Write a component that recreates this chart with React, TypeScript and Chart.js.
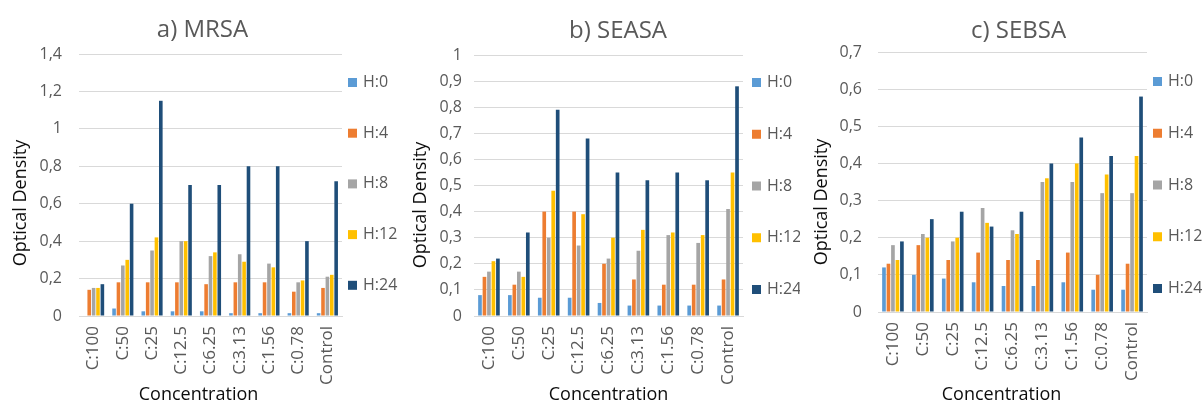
import React, { useEffect, useRef } from "react";
import { Chart, registerables } from "chart.js";

Chart.register(...registerables);

const FONT = "'Open Sans', 'Noto Sans', sans-serif";
const GREY_TEXT = "#595959";

const categories = ["C:100", "C:50", "C:25", "C:12.5", "C:6.25", "C:3.13", "C:1.56", "C:0.78", "Control"];
const hourLabels = ["H:0", "H:4", "H:8", "H:12", "H:24"];
const hourColors = ["#5B9BD5", "#ED7D31", "#A5A5A5", "#FFC000", "#1F4E79"];

// a) MRSA
const mrsaH0 = [0, 0.04, 0.025, 0.025, 0.025, 0.015, 0.015, 0.015, 0.015];
const mrsaH4 = [0.14, 0.18, 0.18, 0.18, 0.17, 0.18, 0.18, 0.13, 0.15];
const mrsaH8 = [0.15, 0.27, 0.35, 0.4, 0.32, 0.33, 0.28, 0.18, 0.21];
const mrsaH12 = [0.15, 0.3, 0.42, 0.4, 0.34, 0.29, 0.26, 0.19, 0.22];
const mrsaH24 = [0.17, 0.6, 1.15, 0.7, 0.7, 0.8, 0.8, 0.4, 0.72];

// b) SEASA
const seasaH0 = [0.08, 0.08, 0.07, 0.07, 0.05, 0.04, 0.04, 0.04, 0.04];
const seasaH4 = [0.15, 0.12, 0.4, 0.4, 0.2, 0.14, 0.12, 0.12, 0.14];
const seasaH8 = [0.17, 0.17, 0.3, 0.27, 0.22, 0.25, 0.31, 0.28, 0.41];
const seasaH12 = [0.21, 0.15, 0.48, 0.39, 0.3, 0.33, 0.32, 0.31, 0.55];
const seasaH24 = [0.22, 0.32, 0.79, 0.68, 0.55, 0.52, 0.55, 0.52, 0.88];

// c) SEBSA
const sebsaH0 = [0.12, 0.1, 0.09, 0.08, 0.07, 0.07, 0.08, 0.06, 0.06];
const sebsaH4 = [0.13, 0.18, 0.14, 0.16, 0.14, 0.14, 0.16, 0.1, 0.13];
const sebsaH8 = [0.18, 0.21, 0.19, 0.28, 0.22, 0.35, 0.35, 0.32, 0.32];
const sebsaH12 = [0.14, 0.2, 0.2, 0.24, 0.21, 0.36, 0.4, 0.37, 0.42];
const sebsaH24 = [0.19, 0.25, 0.27, 0.23, 0.27, 0.4, 0.47, 0.42, 0.58];

const yTitle = "Optical Density";
const xTitle = "Concentration";

type Panel = {
  title: string;
  series: number[][];
  yMax: number;
  yStep: number;
  left: number; // canvas offset on the page
  width: number;
  height: number;
  plot: { left: number; right: number; top: number; bottom: number };
  titlePos: [number, number];
  xTitlePos: [number, number];
  yTitlePos: [number, number];
  legend: { x: number; firstBaseline: number; gap: number };
};

const panels: Panel[] = [
  {
    title: "a) MRSA",
    series: [mrsaH0, mrsaH4, mrsaH8, mrsaH12, mrsaH24],
    yMax: 1.4,
    yStep: 0.2,
    left: 0,
    width: 400,
    height: 401,
    plot: { left: 79, right: 342, top: 54, bottom: 316 },
    titlePos: [202.5, 37],
    xTitlePos: [198.5, 400],
    yTitlePos: [26, 203],
    legend: { x: 348, firstBaseline: 87, gap: 50.7 },
  },
  {
    title: "b) SEASA",
    series: [seasaH0, seasaH4, seasaH8, seasaH12, seasaH24],
    yMax: 1,
    yStep: 0.1,
    left: 400,
    width: 400,
    height: 401,
    plot: { left: 74, right: 343, top: 55, bottom: 316 },
    titlePos: [218, 38],
    xTitlePos: [208.5, 400],
    yTitlePos: [26, 205],
    legend: { x: 352, firstBaseline: 87, gap: 51.75 },
  },
  {
    title: "c) SEBSA",
    series: [sebsaH0, sebsaH4, sebsaH8, sebsaH12, sebsaH24],
    yMax: 0.7,
    yStep: 0.1,
    left: 800,
    width: 402,
    height: 401,
    plot: { left: 78, right: 347, top: 52, bottom: 312 },
    titlePos: [218.5, 38],
    xTitlePos: [201.5, 400],
    yTitlePos: [27, 202],
    legend: { x: 353, firstBaseline: 86, gap: 51.75 },
  },
];

// Draws the chart title, both axis titles and the right-hand legend.
const panelText = {
  id: "panelText",
  afterDraw(chart: any, _args: any, opts: any) {
    const ctx: CanvasRenderingContext2D = chart.ctx;
    ctx.save();

    ctx.fillStyle = GREY_TEXT;
    ctx.font = `24px ${FONT}`;
    ctx.textAlign = "center";
    ctx.textBaseline = "alphabetic";
    ctx.fillText(opts.title, opts.titlePos[0], opts.titlePos[1]);

    ctx.fillStyle = "#0d0d0d";
    ctx.font = `18px ${FONT}`;
    ctx.fillText(xTitle, opts.xTitlePos[0], opts.xTitlePos[1]);

    ctx.save();
    ctx.translate(opts.yTitlePos[0], opts.yTitlePos[1]);
    ctx.rotate(-Math.PI / 2);
    ctx.fillText(yTitle, 0, 0);
    ctx.restore();

    ctx.font = `16px ${FONT}`;
    ctx.textAlign = "left";
    chart.data.datasets.forEach((ds: any, i: number) => {
      const base = opts.legend.firstBaseline + i * opts.legend.gap;
      ctx.fillStyle = ds.backgroundColor;
      ctx.fillRect(opts.legend.x, base - 9, 9, 9);
      ctx.fillStyle = GREY_TEXT;
      ctx.fillText(ds.label, opts.legend.x + 15, base);
    });

    ctx.restore();
  },
};

function formatTick(v: number | string) {
  const n = Math.round(Number(v) * 100) / 100;
  return String(n).replace(".", ",");
}

function PanelChart({ panel }: { panel: Panel }) {
  const ref = useRef<HTMLCanvasElement>(null);

  useEffect(() => {
    if (!ref.current) return;
    const { plot } = panel;
    const chart = new Chart(ref.current, {
      type: "bar",
      data: {
        labels: categories,
        datasets: panel.series.map((values, i) => ({
          label: hourLabels[i],
          data: values,
          backgroundColor: hourColors[i],
          borderWidth: 0,
          categoryPercentage: 0.75,
          barPercentage: 0.82,
        })),
      },
      options: {
        animation: false,
        responsive: false,
        devicePixelRatio: 1,
        layout: {
          padding: { top: plot.top, right: panel.width - plot.right, bottom: 0, left: 0 },
        },
        plugins: {
          legend: { display: false },
          title: { display: false },
          tooltip: { enabled: false },
          panelText: {
            title: panel.title,
            titlePos: panel.titlePos,
            xTitlePos: panel.xTitlePos,
            yTitlePos: panel.yTitlePos,
            legend: panel.legend,
          },
        } as any,
        scales: {
          x: {
            grid: { display: false, drawTicks: false },
            border: { display: true, color: "#D9D9D9", width: 1 },
            ticks: {
              autoSkip: false,
              minRotation: 90,
              maxRotation: 90,
              padding: 10,
              color: GREY_TEXT,
              font: { family: FONT, size: 17 },
            },
            afterFit: (scale: any) => {
              scale.height = panel.height - plot.bottom;
            },
          },
          y: {
            min: 0,
            max: panel.yMax,
            grid: { color: "#D9D9D9", lineWidth: 1, drawTicks: false },
            border: { display: false },
            ticks: {
              stepSize: panel.yStep,
              padding: plot.left - 62,
              color: GREY_TEXT,
              font: { family: FONT, size: 16 },
              callback: (v: any) => formatTick(v),
            },
            afterFit: (scale: any) => {
              scale.width = plot.left;
            },
          },
        },
      },
      plugins: [panelText],
    });
    return () => chart.destroy();
  }, [panel]);

  return (
    <canvas
      ref={ref}
      width={panel.width}
      height={panel.height}
      style={{
        position: "absolute",
        left: panel.left,
        top: 0,
        width: panel.width,
        height: panel.height,
        display: "block",
      }}
    />
  );
}

export default function App() {
  return (
    <div
      style={{
        position: "fixed",
        left: 0,
        top: 0,
        width: 1202,
        height: 401,
        background: "#ffffff",
        overflow: "hidden",
      }}
    >
      {panels.map((p) => (
        <PanelChart key={p.title} panel={p} />
      ))}
    </div>
  );
}
